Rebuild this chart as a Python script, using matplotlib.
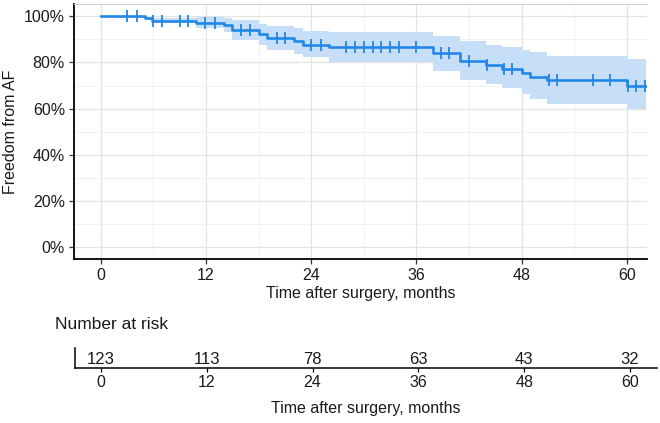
import numpy as np
import matplotlib
matplotlib.use("Agg")
import matplotlib.pyplot as plt
from matplotlib.ticker import MultipleLocator, FuncFormatter

plt.rcParams['font.family'] = ['Liberation Sans', 'DejaVu Sans']

# ---- data ----
step_times = [0, 5.0, 5.9, 10.9, 14.1, 15.0, 18.05, 19.0, 22.0, 23.1, 26.0,
              37.9, 41.0, 43.9, 45.8, 48.0, 48.9, 50.9, 60.05]
surv = [1.0, 0.991, 0.981, 0.971, 0.960, 0.940, 0.922, 0.908, 0.893, 0.877,
        0.865, 0.839, 0.805, 0.788, 0.770, 0.756, 0.737, 0.723, 0.697]
lower = [1.0, 0.985, 0.972, 0.947, 0.930, 0.896, 0.874, 0.856, 0.838, 0.824,
         0.802, 0.763, 0.723, 0.708, 0.690, 0.665, 0.641, 0.620, 0.597]
upper = [1.0, 0.998, 0.991, 0.996, 0.993, 0.982, 0.965, 0.958, 0.948, 0.938,
         0.932, 0.913, 0.892, 0.874, 0.867, 0.853, 0.846, 0.830, 0.813]
end_time = 62.2
censor_times = [3.0, 4.1, 6.0, 7.0, 9.0, 10.0, 11.9, 13.0, 16.0, 17.0, 20.1,
                21.0, 24.0, 25.1, 28.0, 29.0, 30.0, 31.0, 32.0, 33.0, 34.0,
                36.0, 38.8, 39.7, 42.0, 44.0, 46.0, 46.9, 51.1, 52.0, 56.1,
                58.1, 60.1, 61.1, 62.1]
risk_times = [0, 12, 24, 36, 48, 60]
risk_counts = [123, 113, 78, 63, 43, 32]

line_color = '#2387E5'
band_color = '#C6DEF8'
text_color = '#1a1a1a'

fig = plt.figure(figsize=(6.6, 4.23), dpi=100)
ax = fig.add_axes([74/660, 1-259.3/423, (647-74)/660, (259.3-4)/423])

t = np.array(step_times + [end_time])
s = np.array(surv + [surv[-1]])
lo = np.array(lower + [lower[-1]])
hi = np.array(upper + [upper[-1]])

ax.fill_between(t, lo, hi, step='post', color=band_color, lw=0, zorder=2)
ax.step(t, s, where='post', color=line_color, lw=1.9, zorder=3)
ct = np.array(censor_times)
idx = np.searchsorted(t, ct, side='right') - 1
ax.plot(ct, s[idx], ls='none', marker='|', ms=8, mew=1.3, color=line_color, zorder=4)

ax.set_xlim(-3.05, 62.3)
ax.set_ylim(-0.052, 1.053)
ax.xaxis.set_major_locator(MultipleLocator(12))
ax.xaxis.set_minor_locator(MultipleLocator(6))
ax.yaxis.set_major_locator(MultipleLocator(0.2))
ax.yaxis.set_minor_locator(MultipleLocator(0.1))
ax.yaxis.set_major_formatter(FuncFormatter(lambda v, p: f"{v*100:.0f}%"))
ax.grid(which='major', color='#e3e3e3', lw=0.9, zorder=0)
ax.grid(which='minor', color='#efefef', lw=0.6, zorder=0)
ax.set_axisbelow(True)
for sp in ['left', 'bottom']:
    ax.spines[sp].set_color('black')
    ax.spines[sp].set_linewidth(1.3)
ax.spines['right'].set_visible(False)
ax.spines['top'].set_color('#cfcfcf')
ax.spines['top'].set_linewidth(0.8)
ax.tick_params(axis='both', which='major', length=3.5, width=0.9, color='#333333',
               labelsize=11.5, labelcolor=text_color, pad=3)
ax.tick_params(axis='both', which='minor', length=0)
ax.set_xlabel('Time after surgery, months', fontsize=11.5, color=text_color, labelpad=2)
ax.set_ylabel('Freedom from AF', fontsize=11.5, color=text_color, labelpad=4)

# ---- risk table ----
rax = fig.add_axes([75/660, 1-368/423, (657-75)/660, 20/423])
rax.set_xlim(-2.95, 63.06)
rax.set_ylim(0, 1)
for x, n in zip(risk_times, risk_counts):
    rax.text(x, 0.45, str(n), ha='center', va='center', fontsize=12, color=text_color)
rax.set_xticks(risk_times)
rax.set_yticks([])
for sp in ['top', 'right']:
    rax.spines[sp].set_visible(False)
for sp in ['left', 'bottom']:
    rax.spines[sp].set_color('black')
    rax.spines[sp].set_linewidth(1.1)
rax.tick_params(axis='x', length=3, width=0.9, labelsize=11.5, labelcolor=text_color, pad=2)
rax.set_xlabel('Time after surgery, months', fontsize=11.5, color=text_color, labelpad=8)
fig.text(55/660, 1-324/423, 'Number at risk', ha='left', va='center', fontsize=12.5, color=text_color)

fig.savefig('out.png', dpi=100)
